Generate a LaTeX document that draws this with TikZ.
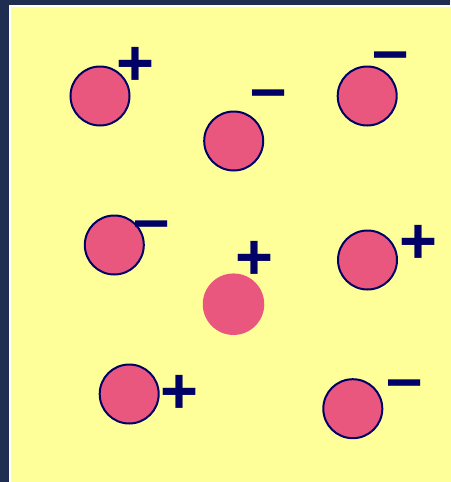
\documentclass[tikz,border=0pt]{standalone}
\usepackage{fontspec}
\setsansfont{Liberation Sans}
\definecolor{rahmenblau}{HTML}{1F2D50}
\definecolor{feldgelb}{HTML}{FFFF99}
\definecolor{ionrot}{HTML}{E9567E}
\definecolor{ionblau}{HTML}{000066}
\begin{document}
\begin{tikzpicture}[x=1pt, y=-1pt,
    ion/.style={circle, fill=ionrot, draw=ionblau, line width=2pt, minimum size=59pt, inner sep=0pt},
    ladung/.style={font=\sffamily\bfseries\fontsize{65}{65}\selectfont, text=ionblau, inner sep=0pt}]
    \useasboundingbox (0, 0) rectangle (450, 482);

    % Rahmen und Feld
    \fill[rahmenblau] (0, 0) rectangle (450, 482);
    \fill[white] (9, 5) rectangle (451, 483);
    \fill[feldgelb] (10.5, 6.5) rectangle (451, 483);

    % Ionen
    \node[ion] (ion1) at (100, 96) {};
    \node[ion] (ion2) at (233.7, 141) {};
    \node[ion] (ion3) at (367.2, 96) {};
    \node[ion] (ion4) at (114.3, 245) {};
    \node[ion, draw=none, minimum size=61.5pt] (ion5) at (233.5, 304.2) {};
    \node[ion] (ion6) at (367.5, 260) {};
    \node[ion] (ion7) at (129.2, 394) {};
    \node[ion] (ion8) at (352.8, 408.7) {};

    % Ladungen
    \node[ladung] (q1) at (135, 66) {+};
    \node[ladung] (q2) at (269, 100.5) {–};
    \node[ladung] (q3) at (391, 62.5) {–};
    \node[ladung] (q4) at (151.7, 231.5) {–};
    \node[ladung] (q5) at (254, 260) {+};
    \node[ladung] (q6) at (418, 244.7) {+};
    \node[ladung] (q7) at (179.7, 394) {+};
    \node[ladung] (q8) at (405, 390.5) {–};
\end{tikzpicture}
\end{document}
